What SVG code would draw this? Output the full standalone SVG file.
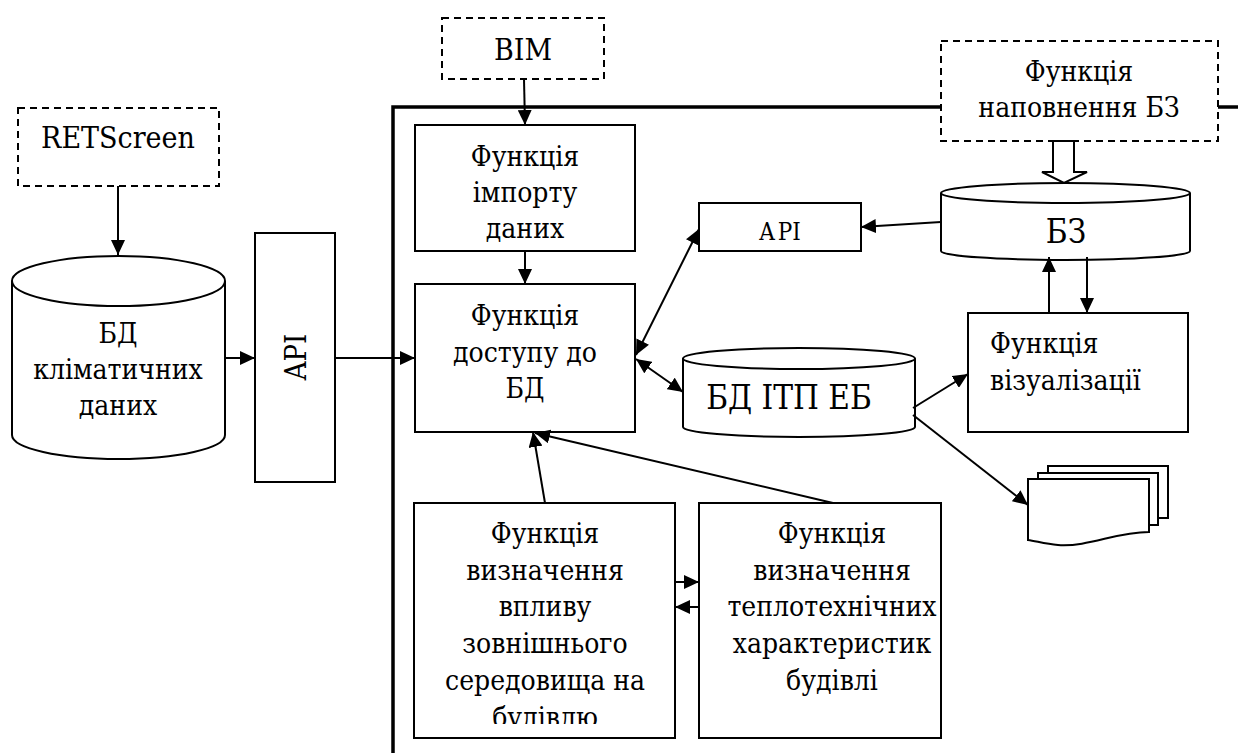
<svg xmlns="http://www.w3.org/2000/svg" width="1238" height="753" viewBox="0 0 1238 753">
  <style>
    .box { fill: #fff; stroke: #000; stroke-width: 2; }
    .open { fill: none; stroke: #000; stroke-width: 2; }
    .dash { fill: #fff; stroke: #000; stroke-width: 2; stroke-dasharray: 7 5; }
    .frame { fill: none; stroke: #000; stroke-width: 3.5; }
    .link { fill: none; stroke: #000; stroke-width: 2; marker-end: url(#ah); }
    .both { marker-start: url(#ahs); }
    text { font-family: 'DejaVu Serif Condensed', 'DejaVu Serif', 'Liberation Serif', serif; font-stretch: condensed; font-size: 28px; fill: #000; text-anchor: middle; }
    text.tl { text-anchor: start; }
    text.ext { font-size: 30px; }
    text.big { font-size: 33px; }
    text.api { font-size: 29px; }
    text.small { font-size: 24px; }
  </style>
  <defs>
    <marker id="ah" markerUnits="userSpaceOnUse" markerWidth="16" markerHeight="14" refX="15" refY="7" orient="auto">
      <path d="M0,0 L15,7 L0,14 Z" fill="#000"/>
    </marker>
    <marker id="ahs" markerUnits="userSpaceOnUse" markerWidth="16" markerHeight="14" refX="15" refY="7" orient="auto-start-reverse">
      <path d="M0,0 L15,7 L0,14 Z" fill="#000"/>
    </marker>
    <clipPath id="clipInfl">
      <rect x="414" y="503" width="261" height="221"/>
    </clipPath>
  </defs>

  <rect width="1238" height="753" fill="#fff"/>

  <!-- system boundary -->
  <g id="frame">
    <polyline class="frame" points="393,753 393,107 941,107"/>
    <line class="frame" x1="1218" y1="107" x2="1238" y2="107"/>
  </g>

  <g id="retscreen">
    <rect class="dash" x="18" y="108" width="201" height="78"/>
    <text class="ext" x="118" y="148">RETScreen</text>
  </g>

  <g id="climate-db">
    <path class="box" d="M12,281 A106.5,25 0 0 1 225,281 V435 A106.5,24 0 0 1 12,435 Z"/>
    <path class="open" d="M12,281 A106.5,25 0 0 0 225,281"/>
    <text x="118" y="343">БД</text>
    <text x="118" y="379">кліматичних</text>
    <text x="118" y="415">даних</text>
  </g>

  <g id="api-ext">
    <rect class="box" x="255" y="233" width="80" height="249"/>
    <text class="api" transform="translate(306,357) rotate(-90)">API</text>
  </g>

  <g id="bim">
    <rect class="dash" x="442" y="18" width="162" height="61"/>
    <text class="ext" x="523" y="60">BIM</text>
  </g>

  <g id="import">
    <rect class="box" x="415" y="125" width="220" height="126"/>
    <text x="525" y="166">Функція</text>
    <text x="525" y="202">імпорту</text>
    <text x="525" y="238">даних</text>
  </g>

  <g id="access">
    <rect class="box" x="415" y="284" width="220" height="148"/>
    <text x="525" y="325">Функція</text>
    <text x="525" y="362">доступу до</text>
    <text x="525" y="398">БД</text>
  </g>

  <g id="api-int">
    <rect class="box" x="699" y="203" width="162" height="48"/>
    <text class="small" x="780" y="240">A<tspan dx="3">PI</tspan></text>
  </g>

  <g id="kb-fill">
    <rect class="dash" x="941" y="41" width="277" height="100"/>
    <text x="1079" y="81">Функція</text>
    <text x="1079" y="117">наповнення БЗ</text>
  </g>

  <g id="kb">
    <path class="box" d="M941,193 A124.5,10 0 0 1 1190,193 V251 A124.5,9 0 0 1 941,251 Z"/>
    <path class="open" d="M941,193 A124.5,10 0 0 0 1190,193"/>
    <text class="big" x="1066" y="243">БЗ</text>
  </g>

  <g id="itp-db">
    <path class="box" d="M683,358.5 A116,10.5 0 0 1 915,358.5 V427 A116,10 0 0 1 683,427 Z"/>
    <path class="open" d="M683,358.5 A116,10.5 0 0 0 915,358.5"/>
    <text class="big" x="789" y="409">БД ІТП ЕБ</text>
  </g>

  <g id="visual">
    <rect class="box" x="968" y="313" width="220" height="119"/>
    <text class="tl" x="990" y="353">Функція</text>
    <text class="tl" x="990" y="390">візуалізації</text>
  </g>

  <g id="reports">
    <path class="box" d="M1048,466 H1168 V518 H1048 Z"/>
    <path class="box" d="M1038,473 H1158 V525 H1038 Z"/>
    <path class="box" d="M1028,479 H1149 V532 C1115,532 1090,547 1058,545 C1045,544 1036,541 1028,540 Z"/>
  </g>

  <g id="influence">
    <rect class="box" x="414" y="503" width="261" height="235"/>
    <g clip-path="url(#clipInfl)">
      <text x="545" y="543">Функція</text>
      <text x="545" y="580">визначення</text>
      <text x="545" y="616">впливу</text>
      <text x="545" y="653">зовнішнього</text>
      <text x="545" y="690">середовища на</text>
      <text x="545" y="727">будівлю</text>
    </g>
  </g>

  <g id="thermal">
    <rect class="box" x="699" y="503" width="242" height="235"/>
    <text x="832" y="543">Функція</text>
    <text x="832" y="580">визначення</text>
    <text x="832" y="616">теплотехнічних</text>
    <text x="832" y="653">характеристик</text>
    <text x="832" y="690">будівлі</text>
  </g>

  <g id="connectors">
    <line class="link" x1="118" y1="186" x2="118" y2="255"/>
    <line class="link" x1="225" y1="358" x2="255" y2="358"/>
    <line class="link" x1="335" y1="358" x2="415" y2="358"/>
    <line class="link" x1="524" y1="79" x2="525" y2="125"/>
    <line class="link" x1="525" y1="251" x2="525" y2="284"/>
    <line class="link both" x1="636" y1="355" x2="699" y2="229"/>
    <line class="link both" x1="636" y1="359" x2="683" y2="392"/>
    <line class="link" x1="941" y1="222" x2="861" y2="227"/>
    <line class="link" x1="1049" y1="313" x2="1049" y2="257"/>
    <line class="link" x1="1087" y1="257" x2="1087" y2="313"/>
    <line class="link" x1="913" y1="408" x2="968" y2="374"/>
    <line class="link" x1="913" y1="415" x2="1028" y2="505"/>
    <line class="link" x1="545" y1="503" x2="533" y2="432"/>
    <line class="link" x1="833" y1="503" x2="535" y2="433"/>
    <line class="link" x1="675" y1="582" x2="699" y2="582"/>
    <line class="link" x1="699" y1="607" x2="675" y2="607"/>
    <path class="box" d="M1053,141 H1074 V172 H1087 L1064,183 L1042,172 H1053 Z"/>
  </g>
</svg>
